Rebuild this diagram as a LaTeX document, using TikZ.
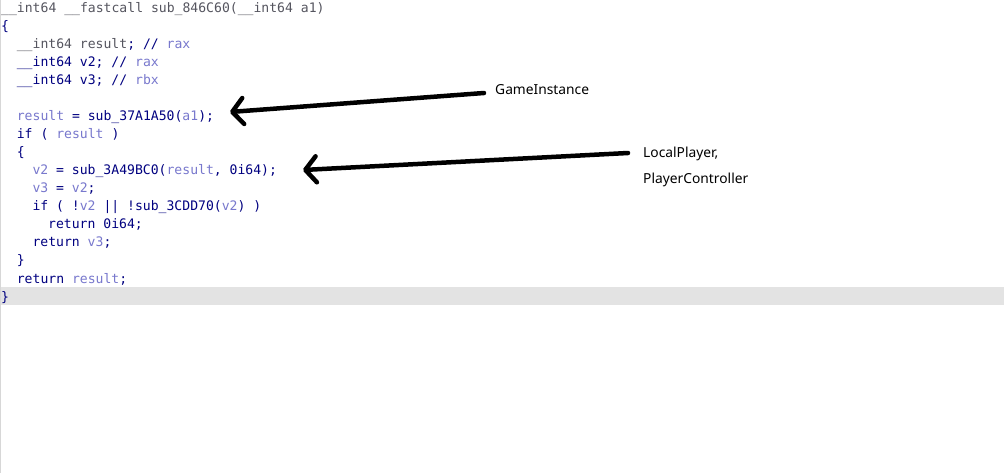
\documentclass[tikz,border=0pt]{standalone}
\usepackage{fontspec}
\usetikzlibrary{arrows.meta}
\newfontfamily\codefont{DejaVu Sans Mono}
\newfontfamily\labelfont{Noto Sans}
\definecolor{codec}{RGB}{0,0,128}
\definecolor{varc}{RGB}{120,120,205}
\definecolor{declc}{RGB}{85,85,95}
\definecolor{bandc}{RGB}{227,227,227}
\definecolor{edgec}{RGB}{215,215,215}
\newcommand\cv[1]{\textcolor{varc}{#1}}
\newcommand\cgr[1]{\textcolor{declc}{#1}}
\tikzset{
  codeline/.style={anchor=base west, inner sep=0pt, text=codec,
    font=\codefont\fontsize{13.1}{13.1}\selectfont},
  note/.style={anchor=base west, inner sep=0pt, text=black,
    font=\labelfont\fontsize{13.8}{13.8}\selectfont},
  pointer/.style={line width=4.5pt, line cap=round, black,
    -{Straight Barb[length=11pt,width=26pt,line cap=round,line join=round]}}
}
\begin{document}
\begin{tikzpicture}[x=1pt,y=-1pt]
\useasboundingbox (0,0) rectangle (1004,473);
\fill[white] (0,0) rectangle (1004,473);
\fill[bandc] (0,287) rectangle (1004,305);
\draw[edgec, line width=1pt] (0.5,0) -- (0.5,473);
\def\cw{7.83}
\node[codeline] (l0) at (1,13) {\cgr{\_\_int64 \_\_fastcall sub\_846C60(\_\_int64 a1)}};
\node[codeline] (l1) at (1,31) {\{};
\node[codeline] (l2) at ({1+2*\cw},49) {\cgr{\_\_int64 result}; // \cv{rax}};
\node[codeline] (l3) at ({1+2*\cw},67) {\_\_int64 v2; // \cv{rax}};
\node[codeline] (l4) at ({1+2*\cw},85) {\_\_int64 v3; // \cv{rbx}};
\node[codeline] (l6) at ({1+2*\cw},121) {\cv{result} = sub\_37A1A50(\cv{a1});};
\node[codeline] (l7) at ({1+2*\cw},139) {if ( \cv{result} )};
\node[codeline] (l8) at ({1+2*\cw},157) {\{};
\node[codeline] (l9) at ({1+4*\cw},175) {\cv{v2} = sub\_3A49BC0(\cv{result}, 0i64);};
\node[codeline] (l10) at ({1+4*\cw},193) {\cv{v3} = \cv{v2};};
\node[codeline] (l11) at ({1+4*\cw},211) {if ( !\cv{v2} || !sub\_3CDD70(\cv{v2}) )};
\node[codeline] (l12) at ({1+6*\cw},229) {return 0i64;};
\node[codeline] (l13) at ({1+4*\cw},247) {return \cv{v3};};
\node[codeline] (l14) at ({1+2*\cw},265) {\}};
\node[codeline] (l15) at ({1+2*\cw},283) {return \cv{result};};
\node[codeline] (l16) at (1,301) {\}};
\node[note] (gi) at (495,95) {GameInstance};
\node[note] (lp) at (643,158) {LocalPlayer,};
\node[note] (pc) at (643,184) {PlayerController};
\coordinate (a1s) at (484,93);
\coordinate (a1t) at (230,112);
\coordinate (a2s) at (628,153);
\coordinate (a2t) at (303,170);
\draw[pointer] (a1s) -- (a1t);
\draw[pointer] (a2s) -- (a2t);
\end{tikzpicture}
\end{document}
